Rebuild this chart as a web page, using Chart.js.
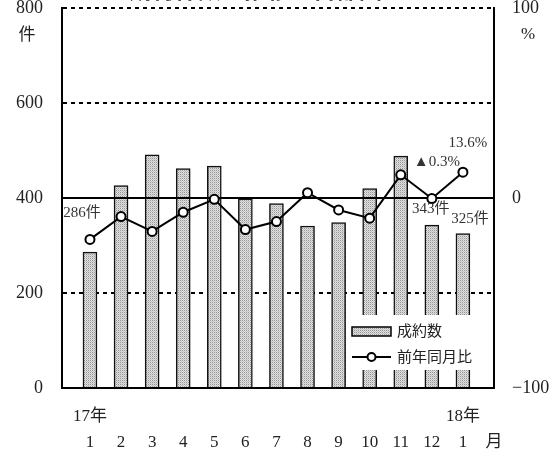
<!DOCTYPE html>
<html lang="ja">
<head>
<meta charset="utf-8">
<title>成約件数の推移</title>
<script src="https://cdn.jsdelivr.net/npm/chart.js@4.4.0/dist/chart.umd.min.js"></script>
<style>
  body { margin: 0; background: #fff; }
  #wrap { position: relative; width: 556px; height: 454px; overflow: hidden; background: #fff; }
  #grafico { position: absolute; left: 0; top: 0; }
  #titulo {
    position: absolute; top: -23px; left: 0; width: 534px;
    text-align: center; font: bold 23px 'Noto Sans CJK JP', sans-serif;
    line-height: 23px; color: #111;
  }
</style>
</head>
<body>
<div id="wrap">
  <canvas id="grafico" width="556" height="454"></canvas>
  <div id="titulo">成約件数の推移（首都圏）</div>
</div>
<script>
// 横軸ラベル（上段：年、下段：月）
const years  = ['17年', '', '', '', '', '', '', '', '', '', '', '', '18年', ''];
const months = ['1', '2', '3', '4', '5', '6', '7', '8', '9', '10', '11', '12', '1', '月'];

// 成約数（件）
const seiyaku = [286, 426, 491, 462, 467, 398, 388, 341, 348, 420, 488, 343, 325];
// 前年同月比（％）
const zennen = [-21.8, -9.8, -17.6, -7.5, -0.7, -16.6, -12.4, 2.8, -6.3, -10.6, 12.2, -0.3, 13.6];

// 目盛り
const leftTicks = [0, 200, 400, 600, 800];
const rightTicks = [-100, 0, 100];

// 数値ラベルを付ける月（インデックス）と表示位置のずれ
const seiyakuLabelIdx = [0, 11, 12];
const seiyakuLabelOff = [[-8, -39], [-1, -16], [7, -15]];
const zennenLabelIdx = [11, 12];
const zennenLabelOff = [[5, -37], [5, -29]];

const SERIF = "'Liberation Serif', 'Noto Sans CJK JP', serif";
const TXT = '#222';

const canvas = document.getElementById('grafico');
const ctx = canvas.getContext('2d');

// 棒の網点パターン
function crearTrama() {
    const c = document.createElement('canvas');
    c.width = 2; c.height = 2;
    const g = c.getContext('2d');
    g.fillStyle = '#e0e0e0'; g.fillRect(0, 0, 2, 2);
    g.fillStyle = '#959595'; g.fillRect(0, 0, 1, 1);
    g.fillStyle = '#c2c2c2'; g.fillRect(1, 1, 1, 1);
    return ctx.createPattern(c, 'repeat');
}
const trama = crearTrama();

const fmtPct = v => (v < 0 ? '▲' : '') + Math.abs(v).toFixed(1) + '%';

const extras = {
    id: 'extras',
    // 0％の実線は棒の上、折れ線の下に引く
    beforeDatasetDraw(chart, args) {
        if (args.meta.type !== 'line') return;
        const { chartArea } = chart;
        const y = chart.scales.y1.getPixelForValue(0);
        const c = chart.ctx;
        c.save();
        c.strokeStyle = '#000';
        c.lineWidth = 2;
        c.beginPath();
        c.moveTo(chartArea.left, y);
        c.lineTo(chartArea.right, y);
        c.stroke();
        c.restore();
    },
    afterDatasetsDraw(chart) {
        const c = chart.ctx;
        const lineMeta = chart.getDatasetMeta(0);
        const barMeta = chart.getDatasetMeta(1);

        // 凡例
        const bx = 346, by = 315, bw = chart.chartArea.right - 2 - bx, bh = 55;
        c.save();
        c.fillStyle = '#fff';
        c.fillRect(bx, by, bw, bh);
        c.font = '15px ' + SERIF;
        c.textBaseline = 'middle';

        c.fillStyle = trama;
        c.fillRect(352, 327, 39, 9);
        c.strokeStyle = '#000';
        c.lineWidth = 1.5;
        c.strokeRect(352, 327, 39, 9);
        c.fillStyle = TXT;
        c.fillText(chart.data.datasets[1].label, 397, 332);

        c.lineWidth = 2;
        c.beginPath();
        c.moveTo(352, 357);
        c.lineTo(391, 357);
        c.stroke();
        c.beginPath();
        c.arc(371.5, 357, 4, 0, Math.PI * 2);
        c.fillStyle = '#fff';
        c.fill();
        c.stroke();
        c.fillStyle = TXT;
        c.fillText(chart.data.datasets[0].label, 397, 358);

        // 数値ラベル
        c.font = '15px ' + SERIF;
        c.textAlign = 'center';
        c.fillStyle = '#333';
        seiyakuLabelIdx.forEach((i, k) => {
            const el = barMeta.data[i];
            c.fillText(seiyaku[i] + '件', el.x + seiyakuLabelOff[k][0], el.y + seiyakuLabelOff[k][1]);
        });
        zennenLabelIdx.forEach((i, k) => {
            const el = lineMeta.data[i];
            c.fillText(fmtPct(zennen[i]), el.x + zennenLabelOff[k][0], el.y + zennenLabelOff[k][1]);
        });
        c.restore();
    },
    afterDraw(chart) {
        // 単位
        const c = chart.ctx;
        c.save();
        c.font = '17px ' + SERIF;
        c.fillStyle = TXT;
        c.textAlign = 'center';
        c.textBaseline = 'middle';
        c.fillText('件', 27, 36);
        c.fillText('%', 528, 35);
        c.restore();
    }
};

const sinPadding = s => { s.paddingTop = 0; s.paddingBottom = 0; s.paddingLeft = 0; s.paddingRight = 0; };

new Chart(ctx, {
    data: {
        datasets: [
            {
                type: 'line',
                label: '前年同月比',
                data: zennen.map((v, i) => ({ x: i + 1, y: v })),
                yAxisID: 'y1',
                borderColor: '#000',
                borderWidth: 2,
                pointRadius: 4.5,
                pointBackgroundColor: '#fff',
                pointBorderColor: '#000',
                pointBorderWidth: 2,
                tension: 0,
                order: 0
            },
            {
                type: 'bar',
                label: '成約数',
                data: seiyaku.map((v, i) => ({ x: i + 1, y: v })),
                yAxisID: 'y',
                backgroundColor: trama,
                borderColor: '#111',
                borderWidth: 1.5,
                barThickness: 14,
                order: 1
            }
        ]
    },
    options: {
        responsive: false,
        animation: false,
        layout: { padding: { top: 8, left: 0, right: 0, bottom: 0 } },
        plugins: {
            legend: { display: false },
            tooltip: { enabled: false }
        },
        scales: {
            x: {
                type: 'linear',
                offset: false,
                min: 0.1,
                max: 14,
                afterBuildTicks: s => { s.ticks = months.map((m, i) => ({ value: i + 1 })); },
                afterFit: s => { s.height = 66; sinPadding(s); },
                ticks: {
                    autoSkip: false,
                    maxRotation: 0,
                    padding: 16,
                    color: TXT,
                    font: { family: SERIF, size: 17, lineHeight: 26 / 17 },
                    callback: (v, i) => [years[i], months[i]]
                },
                grid: { display: false, drawTicks: false },
                border: { display: true, color: '#000', width: 2 }
            },
            y: {
                position: 'left',
                min: 0,
                max: 800,
                afterBuildTicks: s => { s.ticks = leftTicks.map(v => ({ value: v })); },
                afterFit: s => { s.width = 62; sinPadding(s); },
                ticks: {
                    padding: 19,
                    color: TXT,
                    font: { family: SERIF, size: 18 }
                },
                grid: {
                    drawTicks: false,
                    lineWidth: 2,
                    color: c => (c.tick && c.tick.value === 0) ? 'rgba(0,0,0,0)' : '#000'
                },
                border: { display: true, color: '#000', width: 2, dash: [4, 4] }
            },
            y1: {
                position: 'right',
                min: -100,
                max: 100,
                afterBuildTicks: s => { s.ticks = rightTicks.map(v => ({ value: v })); },
                afterFit: s => { s.width = 62; sinPadding(s); },
                ticks: {
                    padding: 18,
                    color: TXT,
                    font: { family: SERIF, size: 18 },
                    callback: v => (v < 0 ? '−' + Math.abs(v) : String(v))
                },
                grid: { display: false, drawTicks: false },
                border: { display: true, color: '#000', width: 2 }
            }
        }
    },
    plugins: [extras]
});
</script>
</body>
</html>
